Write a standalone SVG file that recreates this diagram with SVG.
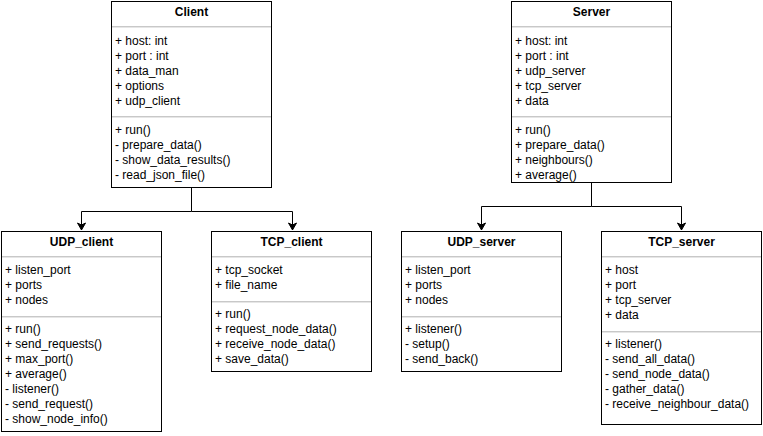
<svg xmlns="http://www.w3.org/2000/svg" width="763" height="436" viewBox="0 0 763 436">
  <style>
    .box { fill: #ffffff; stroke: #000000; stroke-width: 1; }
    .sep { stroke: #c8c8c8; stroke-width: 1; }
    .sep2 { stroke: #e6e6e6; stroke-width: 1; }
    .title { font-family: "Liberation Sans", Arial, sans-serif; font-size: 12px; font-weight: bold; text-anchor: middle; fill: #000; }
    .item { font-family: "Liberation Sans", Arial, sans-serif; font-size: 12px; fill: #000; }
    .edge { fill: none; stroke: #000000; stroke-width: 1; }
  </style>
  <defs>
    <marker id="arrow" markerWidth="10" markerHeight="10" refX="8" refY="5" orient="auto" markerUnits="userSpaceOnUse">
      <path d="M1,1 L8,5 L1,9 L3,5 Z" fill="#000" stroke="#000" stroke-width="1"/>
    </marker>
  </defs>

  <rect width="763" height="436" fill="#ffffff"/>

  <!-- Inheritance connectors -->
  <g id="connectors">
    <path class="edge" d="M191.5,187.5 V211.5 H81.5 V230" marker-end="url(#arrow)"/>
    <path class="edge" d="M191.5,211.5 H292.5 V230" marker-end="url(#arrow)"/>
    <path class="edge" d="M591.5,182.5 V206.5 H481.5 V230" marker-end="url(#arrow)"/>
    <path class="edge" d="M591.5,206.5 H681.5 V230" marker-end="url(#arrow)"/>
  </g>

  <!-- Client -->
  <g id="client">
    <rect class="box" x="111.5" y="1.5" width="160" height="186"/>
    <line class="sep" x1="112" y1="26.5" x2="271" y2="26.5"/>
    <line class="sep2" x1="112" y1="27.5" x2="271" y2="27.5"/>
    <line class="sep" x1="112" y1="116.5" x2="271" y2="116.5"/>
    <line class="sep2" x1="112" y1="117.5" x2="271" y2="117.5"/>
    <text class="title" x="191.5" y="16">Client</text>
    <text class="item" x="115" y="45">
      <tspan x="115">+ host: int</tspan>
      <tspan x="115" dy="15">+ port : int</tspan>
      <tspan x="115" dy="15">+ data_man</tspan>
      <tspan x="115" dy="15">+ options</tspan>
      <tspan x="115" dy="15">+ udp_client</tspan>
    </text>
    <text class="item" x="115" y="134">
      <tspan x="115">+ run()</tspan>
      <tspan x="115" dy="15">- prepare_data()</tspan>
      <tspan x="115" dy="15">- show_data_results()</tspan>
      <tspan x="115" dy="15">- read_json_file()</tspan>
    </text>
  </g>

  <!-- Server -->
  <g id="server">
    <rect class="box" x="511.5" y="1.5" width="160" height="181"/>
    <line class="sep" x1="512" y1="26.5" x2="671" y2="26.5"/>
    <line class="sep2" x1="512" y1="27.5" x2="671" y2="27.5"/>
    <line class="sep" x1="512" y1="116.5" x2="671" y2="116.5"/>
    <line class="sep2" x1="512" y1="117.5" x2="671" y2="117.5"/>
    <text class="title" x="591.5" y="16">Server</text>
    <text class="item" x="515" y="45">
      <tspan x="515">+ host: int</tspan>
      <tspan x="515" dy="15">+ port : int</tspan>
      <tspan x="515" dy="15">+ udp_server</tspan>
      <tspan x="515" dy="15">+ tcp_server</tspan>
      <tspan x="515" dy="15">+ data</tspan>
    </text>
    <text class="item" x="515" y="134">
      <tspan x="515">+ run()</tspan>
      <tspan x="515" dy="15">+ prepare_data()</tspan>
      <tspan x="515" dy="15">+ neighbours()</tspan>
      <tspan x="515" dy="15">+ average()</tspan>
    </text>
  </g>

  <!-- UDP_client -->
  <g id="udp_client">
    <rect class="box" x="1.5" y="231.5" width="160" height="200"/>
    <line class="sep" x1="2" y1="256.5" x2="161" y2="256.5"/>
    <line class="sep2" x1="2" y1="257.5" x2="161" y2="257.5"/>
    <line class="sep" x1="2" y1="316.5" x2="161" y2="316.5"/>
    <line class="sep2" x1="2" y1="317.5" x2="161" y2="317.5"/>
    <text class="title" x="81.5" y="246">UDP_client</text>
    <text class="item" x="5" y="274">
      <tspan x="5">+ listen_port</tspan>
      <tspan x="5" dy="15">+ ports</tspan>
      <tspan x="5" dy="15">+ nodes</tspan>
    </text>
    <text class="item" x="5" y="333">
      <tspan x="5">+ run()</tspan>
      <tspan x="5" dy="15">+ send_requests()</tspan>
      <tspan x="5" dy="15">+ max_port()</tspan>
      <tspan x="5" dy="15">+ average()</tspan>
      <tspan x="5" dy="15">- listener()</tspan>
      <tspan x="5" dy="15">- send_request()</tspan>
      <tspan x="5" dy="15">- show_node_info()</tspan>
    </text>
  </g>

  <!-- TCP_client -->
  <g id="tcp_client">
    <rect class="box" x="211.5" y="231.5" width="160" height="140"/>
    <line class="sep" x1="212" y1="256.5" x2="371" y2="256.5"/>
    <line class="sep2" x1="212" y1="257.5" x2="371" y2="257.5"/>
    <line class="sep" x1="212" y1="301.5" x2="371" y2="301.5"/>
    <line class="sep2" x1="212" y1="302.5" x2="371" y2="302.5"/>
    <text class="title" x="291.5" y="246">TCP_client</text>
    <text class="item" x="215" y="274">
      <tspan x="215">+ tcp_socket</tspan>
      <tspan x="215" dy="15">+ file_name</tspan>
    </text>
    <text class="item" x="215" y="318">
      <tspan x="215">+ run()</tspan>
      <tspan x="215" dy="15">+ request_node_data()</tspan>
      <tspan x="215" dy="15">+ receive_node_data()</tspan>
      <tspan x="215" dy="15">+ save_data()</tspan>
    </text>
  </g>

  <!-- UDP_server -->
  <g id="udp_server">
    <rect class="box" x="401.5" y="231.5" width="160" height="140"/>
    <line class="sep" x1="402" y1="256.5" x2="561" y2="256.5"/>
    <line class="sep2" x1="402" y1="257.5" x2="561" y2="257.5"/>
    <line class="sep" x1="402" y1="316.5" x2="561" y2="316.5"/>
    <line class="sep2" x1="402" y1="317.5" x2="561" y2="317.5"/>
    <text class="title" x="481.5" y="246">UDP_server</text>
    <text class="item" x="405" y="274">
      <tspan x="405">+ listen_port</tspan>
      <tspan x="405" dy="15">+ ports</tspan>
      <tspan x="405" dy="15">+ nodes</tspan>
    </text>
    <text class="item" x="405" y="333">
      <tspan x="405">+ listener()</tspan>
      <tspan x="405" dy="15">- setup()</tspan>
      <tspan x="405" dy="15">- send_back()</tspan>
    </text>
  </g>

  <!-- TCP_server -->
  <g id="tcp_server">
    <rect class="box" x="601.5" y="231.5" width="160" height="193"/>
    <line class="sep" x1="602" y1="256.5" x2="761" y2="256.5"/>
    <line class="sep2" x1="602" y1="257.5" x2="761" y2="257.5"/>
    <line class="sep" x1="602" y1="331.5" x2="761" y2="331.5"/>
    <line class="sep2" x1="602" y1="332.5" x2="761" y2="332.5"/>
    <text class="title" x="681.5" y="246">TCP_server</text>
    <text class="item" x="605" y="274">
      <tspan x="605">+ host</tspan>
      <tspan x="605" dy="15">+ port</tspan>
      <tspan x="605" dy="15">+ tcp_server</tspan>
      <tspan x="605" dy="15">+ data</tspan>
    </text>
    <text class="item" x="605" y="348">
      <tspan x="605">+ listener()</tspan>
      <tspan x="605" dy="15">- send_all_data()</tspan>
      <tspan x="605" dy="15">- send_node_data()</tspan>
      <tspan x="605" dy="15">- gather_data()</tspan>
      <tspan x="605" dy="15">- receive_neighbour_data()</tspan>
    </text>
  </g>
</svg>
